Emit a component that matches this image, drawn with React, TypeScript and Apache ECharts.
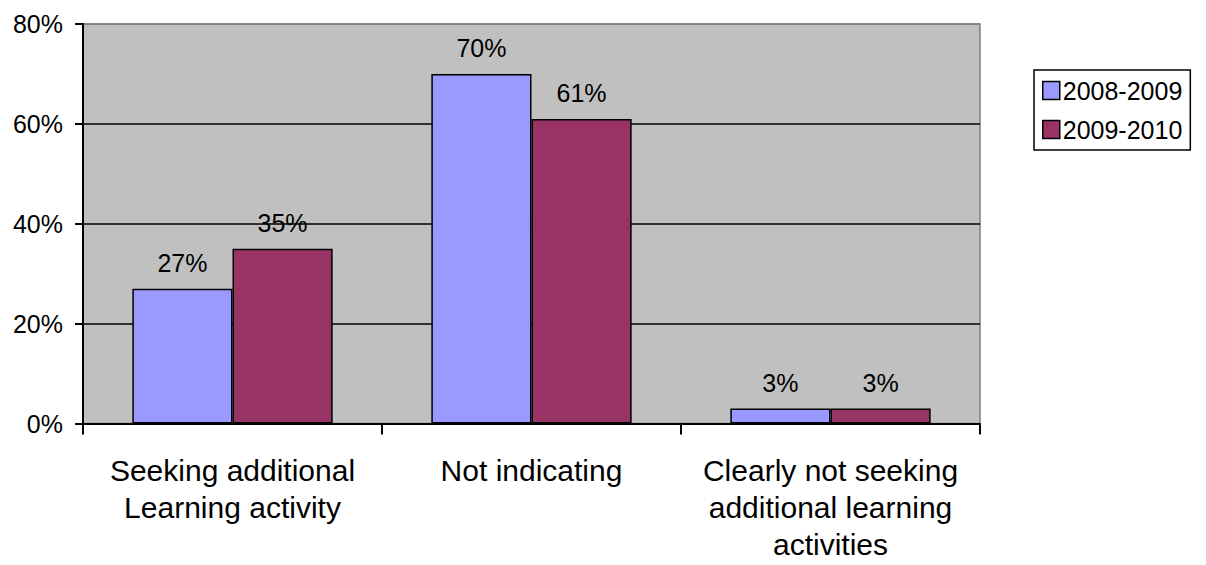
import React, { useEffect, useRef } from "react";
import * as echarts from "echarts";

const categories = [
  "Seeking additional\nLearning activity",
  "Not indicating",
  "Clearly not seeking\nadditional learning\nactivities",
];
const seriesNames = ["2008-2009", "2009-2010"];
const values2008 = [27, 70, 3];
const values2009 = [35, 61, 3];
const seriesColors = ["#9999FF", "#993366"];
const yTicks = { min: 0, max: 80, interval: 20 };

const FONT = '"Liberation Sans", Arial, sans-serif';

export default function App() {
  const ref = useRef<HTMLDivElement>(null);
  useEffect(() => {
    document.body.style.margin = "0";
    const chart = echarts.init(ref.current!, null, { renderer: "svg" });
    const mkSeries = (name: string, data: number[], color: string) => ({
      name,
      type: "bar",
      data,
      barGap: "0%",
      barCategoryGap: "33%",
      itemStyle: { color, borderColor: "#000", borderWidth: 1.5 },
      label: {
        show: true,
        position: "top",
        distance: 13,
        formatter: "{c}%",
        fontSize: 25,
        fontFamily: FONT,
        color: "#000",
      },
    });
    chart.setOption({
      animation: false,
      backgroundColor: "#fff",
      textStyle: { fontFamily: FONT },
      grid: {
        left: 83,
        right: 226,
        top: 24,
        bottom: 141.5,
        show: true,
        backgroundColor: "#C0C0C0",
        borderColor: "#808080",
        borderWidth: 1.5,
      },
      legend: {
        orient: "vertical",
        left: 1034,
        top: 70,
        width: 160,
        padding: [8, 8, 8, 8],
        itemGap: 14,
        itemWidth: 17,
        itemHeight: 18,
        borderColor: "#000",
        borderWidth: 1.5,
        icon: "rect",
        itemStyle: { borderColor: "#000", borderWidth: 1.5 },
        textStyle: { fontSize: 25, fontFamily: FONT, color: "#000", padding: [0, 0, 0, -2] },
        data: seriesNames,
      },
      xAxis: {
        type: "category",
        data: categories,
        axisLine: { lineStyle: { color: "#000", width: 2 } },
        axisTick: { show: true, length: 11, lineStyle: { color: "#000", width: 2 } },
        axisLabel: {
          fontSize: 30,
          lineHeight: 37,
          margin: 28,
          color: "#000",
          fontFamily: FONT,
          interval: 0,
        },
      },
      yAxis: {
        type: "value",
        min: yTicks.min,
        max: yTicks.max,
        interval: yTicks.interval,
        axisLine: { show: true, lineStyle: { color: "#000", width: 2 } },
        axisTick: { show: true, length: 8, lineStyle: { color: "#000", width: 2 } },
        axisLabel: {
          formatter: "{value}%",
          fontSize: 25,
          margin: 20,
          color: "#000",
          fontFamily: FONT,
        },
        splitLine: {
          show: true,
          lineStyle: {
            color: ["#000", "#000", "#000", "#000", "#808080"],
            width: 1.5,
          },
        },
      },
      series: [
        mkSeries(seriesNames[0], values2008, seriesColors[0]),
        mkSeries(seriesNames[1], values2009, seriesColors[1]),
      ],
    });
    return () => chart.dispose();
  }, []);
  return <div ref={ref} style={{ width: 1206, height: 565 }} />;
}
